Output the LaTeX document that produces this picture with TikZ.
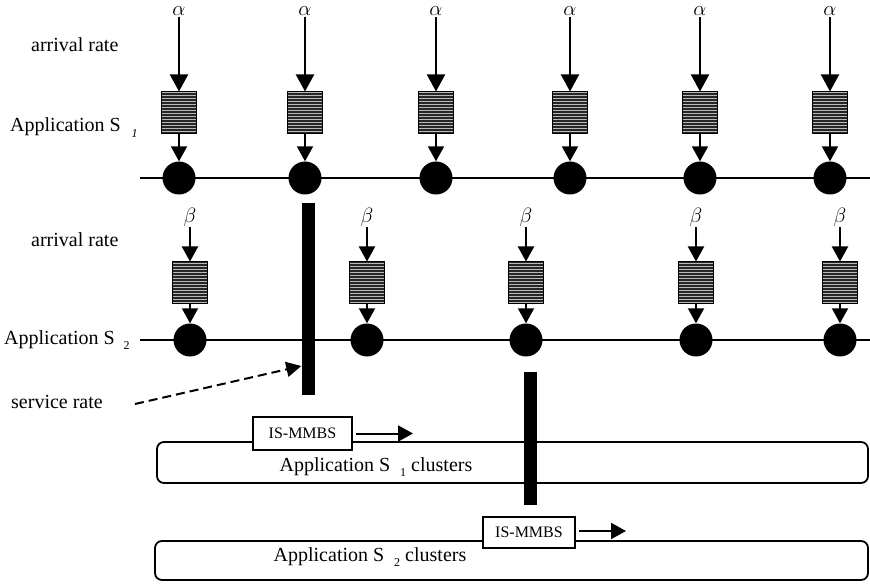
\documentclass[tikz,border=0pt]{standalone}
\usepackage{fontspec}
\setmainfont{Liberation Serif}
\usetikzlibrary{arrows.meta,patterns}
\begin{document}
\begin{tikzpicture}[x=1pt,y=-1pt,
  queue/.style={draw=black, line width=1pt, preaction={fill=black!85}, pattern=horizontal lines, pattern color=gray!55, minimum width=35pt, minimum height=42pt, inner sep=0pt},
  server/.style={circle, fill=black, minimum size=33pt, inner sep=0pt},
  bigarrow/.style={line width=2pt, -{Triangle[width=18pt,length=17pt]}},
  smallarrow/.style={line width=2pt, -{Triangle[width=16pt,length=15pt]}},
  greek/.style={font=\fontsize{22}{24}\selectfont, inner sep=1pt},
  lbl/.style={font=\fontsize{20}{22}\selectfont, anchor=west, inner sep=0pt},
  bar/.style={fill=black, minimum width=13pt, inner sep=0pt},
  mmbs/.style={draw=black, line width=2pt, fill=white, minimum width=99pt, minimum height=33pt, inner sep=0pt, font=\fontsize{16}{18}\selectfont},
  cluster/.style={draw=black, line width=1.8pt, rounded corners=7pt, inner sep=0pt},
  bus/.style={line width=2.4pt}
]
\useasboundingbox (0,0) rectangle (870,585);

% ---- labels on the left
\node[lbl] (ar1) at (31,45) {arrival rate};
\node[lbl] (app1) at (10,128) {Application S\hspace{11pt}\raisebox{-6pt}{\fontsize{12}{13}\selectfont\itshape 1}};
\node[lbl] (ar2) at (31,240) {arrival rate};
\node[lbl] (app2) at (4,340) {Application S\hspace{9pt}\raisebox{-5pt}{\fontsize{12}{13}\selectfont 2}};
\node[lbl] (sr) at (11,402) {service rate};

% ---- row 1 (alpha)
\coordinate (l1a) at (140,178);
\coordinate (l1b) at (870,178);
\draw[bus] (l1a) -- (l1b);
\foreach \i/\x in {1/179,2/305,3/436,4/570,5/700,6/830}{
  \node[greek] (a\i) at (\x,11) {$\alpha$};
  \node[queue] (q\i) at (\x,113) {};
  \node[server] (c\i) at (\x,178) {};
  \draw[bigarrow] (a\i.south) -- (q\i.north);
  \draw[smallarrow] (q\i.south) -- (c\i.north);
}

% ---- row 2 (beta)
\coordinate (l2a) at (140,340);
\coordinate (l2b) at (870,340);
\draw[bus] (l2a) -- (l2b);
\foreach \i/\x in {1/190,2/367,3/526,4/696,5/840}{
  \node[greek] (b\i) at (\x,217) {$\beta$};
  \node[queue] (p\i) at (\x,283) {};
  \node[server] (d\i) at (\x,340) {};
  \draw[smallarrow] (b\i.south) -- (p\i.north);
  \draw[smallarrow] (p\i.south) -- (d\i.north);
}

% ---- clusters
\node[cluster, minimum width=711pt, minimum height=41pt] (cl1) at (512.5,462.5) {};
\node[font=\fontsize{20}{22}\selectfont, inner sep=0pt] (cl1t) at (376,467) {Application S\hspace{10pt}\raisebox{-5pt}{\fontsize{12}{13}\selectfont 1} clusters};
\node[cluster, minimum width=713pt, minimum height=39pt] (cl2) at (511.5,560.5) {};
\node[font=\fontsize{20}{22}\selectfont, inner sep=0pt] (cl2t) at (370,557) {Application S\hspace{10pt}\raisebox{-5pt}{\fontsize{12}{13}\selectfont 2} clusters};

% ---- service bars
\node[bar, minimum height=192pt] (bar1) at (308,299) {};
\node[bar, minimum height=133pt] (bar2) at (530,438.5) {};

% ---- IS-MMBS
\node[mmbs] (m1) at (302.5,433.5) {IS-MMBS};
\coordinate (m1s) at (356,433.5);
\coordinate (m1e) at (413,433.5);
\draw[smallarrow] (m1s) -- (m1e);
\node[mmbs, minimum width=92pt, minimum height=31pt] (m2) at (529,532.5) {IS-MMBS};
\coordinate (m2s) at (579,531);
\coordinate (m2e) at (626,531);
\draw[smallarrow] (m2s) -- (m2e);

% ---- service rate dashed arrow
\coordinate (srs) at (135,404);
\draw[line width=2pt, dash pattern=on 9pt off 5pt, -{Triangle[width=15pt,length=15pt]}] (srs) -- (bar1.west |- 0,366);
\end{tikzpicture}
\end{document}
